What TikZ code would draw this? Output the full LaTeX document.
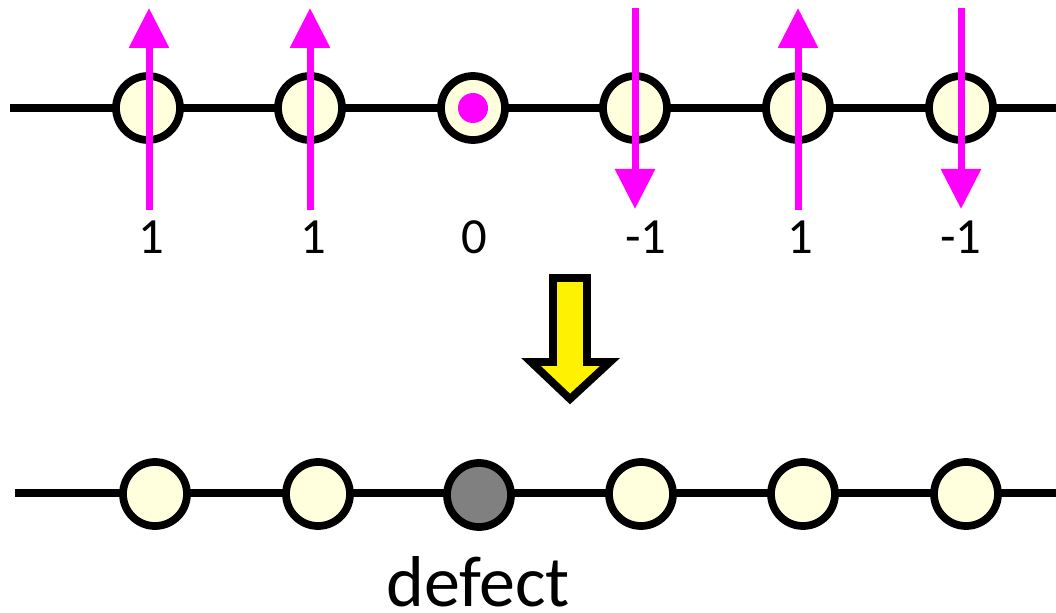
\documentclass[tikz,border=0pt]{standalone}
\usepackage{fontspec}
\setmainfont{Carlito}
\usetikzlibrary{arrows.meta}
\definecolor{atomfill}{RGB}{255,255,221}
\definecolor{spin}{RGB}{255,0,255}
\definecolor{defectfill}{RGB}{128,128,128}
\begin{document}
\begin{tikzpicture}[x=0.75pt,y=-0.75pt,
  chain/.style={line width=5.8pt},
  atom/.style={circle,draw=black,line width=5.8pt,fill=atomfill,minimum size=48pt,inner sep=0pt},
  spinarrow/.style={draw=spin,line width=5.25pt,-{Triangle[length=30pt,width=29pt]}},
  valuelabel/.style={anchor=base,font=\fontsize{38}{40}\selectfont},
  bigarrow/.style={draw=black,line width=5.8pt,fill=yellow,line join=miter}
]
\useasboundingbox (0,0) rectangle (1056,613);

% upper chain with spins
\coordinate (tl) at (10,108);
\coordinate (tr) at (1056,108);
\draw[chain] (tl) -- (tr);
\foreach \i/\x in {1/148,2/310,3/473,4/635,5/798,6/961}{
  \node[atom] (a\i) at (\x,108) {};
}
\fill[spin] (a3.center) circle[radius=11.25pt];

\foreach \i/\x in {1/149,2/310,5/798}{
  \coordinate (s\i b) at (\x,210);
  \coordinate (s\i t) at (\x,8);
  \draw[spinarrow] (s\i b) -- (s\i t);
}
\foreach \i/\x in {4/635,6/961}{
  \coordinate (s\i t) at (\x,8);
  \coordinate (s\i b) at (\x,209);
  \draw[spinarrow] (s\i t) -- (s\i b);
}

\node[valuelabel] (v1) at (151,253) {1};
\node[valuelabel] (v2) at (313,253) {1};
\node[valuelabel] (v3) at (474,253) {0};
\node[valuelabel] (v4) at (646,253) {-1};
\node[valuelabel] (v5) at (800,253) {1};
\node[valuelabel] (v6) at (961,253) {-1};

% transition arrow
\draw[bigarrow] (553,278) -- (587,278) -- (587,362) -- (610,362) -- (570,399)
  -- (531,362) -- (553,362) -- cycle;

% lower chain with defect
\coordinate (bl) at (15,493);
\coordinate (br) at (1056,493);
\draw[chain] (bl) -- (br);
\foreach \i/\x in {1/155,2/318,4/641,5/803,6/966}{
  \node[atom] (b\i) at (\x,494) {};
}
\node[atom,fill=defectfill] (b3) at (479,495) {};
\node[anchor=base,font=\fontsize{54}{56}\selectfont] (lbl) at (478,606) {defect};
\end{tikzpicture}
\end{document}
